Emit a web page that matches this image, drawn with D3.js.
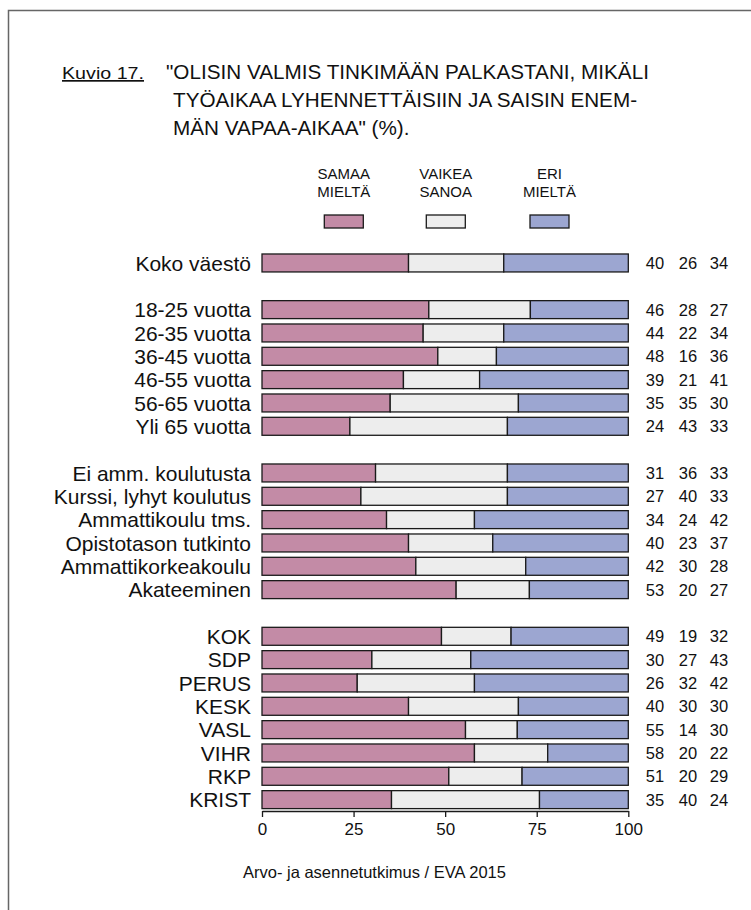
<!DOCTYPE html>
<html><head><meta charset="utf-8">
<script src="https://cdn.jsdelivr.net/npm/d3@7"></script>
<style>
body{margin:0;background:#fff}
text{font-family:"Liberation Sans",Arial,Helvetica,sans-serif;fill:#111}
</style>
</head><body>
<svg id="chart" width="751" height="910"></svg>
<script>
// ---- data ----
const categories = ["Koko väestö",
  "18-25 vuotta","26-35 vuotta","36-45 vuotta","46-55 vuotta","56-65 vuotta","Yli 65 vuotta",
  "Ei amm. koulutusta","Kurssi, lyhyt koulutus","Ammattikoulu tms.","Opistotason tutkinto","Ammattikorkeakoulu","Akateeminen",
  "KOK","SDP","PERUS","KESK","VASL","VIHR","RKP","KRIST"];
const gapBefore = ["18-25 vuotta","Ei amm. koulutusta","KOK"];
const samaa  = [40,46,44,48,39,35,24,31,27,34,40,42,53,49,30,26,40,55,58,51,35];
const vaikea = [26,28,22,16,21,35,43,36,40,24,23,30,20,19,27,32,30,14,20,20,40];
const eri    = [34,27,34,36,41,30,33,33,33,42,37,28,27,32,43,42,30,30,22,29,24];
const seriesKeys = ["samaa","vaikea","eri"];
const legendLabels = [["SAMAA","MIELTÄ"],["VAIKEA","SANOA"],["ERI","MIELTÄ"]];
const xTicks = [0,25,50,75,100];
const titleLines = ['"OLISIN VALMIS TINKIMÄÄN PALKASTANI, MIKÄLI','TYÖAIKAA LYHENNETTÄISIIN JA SAISIN ENEM-','MÄN VAPAA-AIKAA" (%).'];
const figLabel = "Kuvio 17.";
const source = "Arvo- ja asennetutkimus / EVA 2015";

// ---- build ----
const colors = {samaa:"#c38ba6", vaikea:"#ededed", eri:"#9ca6d1"};
const rows = categories.map((c,i)=>({cat:c, samaa:samaa[i], vaikea:vaikea[i], eri:eri[i]}));
const slots = [];
categories.forEach((c,i)=>{ if(gapBefore.includes(c)) slots.push("gap"+i); slots.push(c); });

const svg = d3.select("#chart");

// frame
svg.append("path").attr("d","M8.5,910 L8.5,10.5 L751,10.5").attr("fill","none").attr("stroke","#666").attr("stroke-width",1.5);

const x = d3.scaleLinear().domain([0,1]).range([262,628.3]);
const xPct = d3.scaleLinear().domain([0,100]).range([262,628.3]);
const y = d3.scaleBand().domain(slots).range([251.3,811.3]).paddingInner(0.23).paddingOuter(0.115);

const stack = d3.stack().keys(seriesKeys).offset(d3.stackOffsetExpand);
const stacked = stack(rows);

const g = svg.append("g");
stacked.forEach(layer=>{
  g.selectAll(null).data(layer).enter().append("rect")
    .attr("x", d=>x(d[0]))
    .attr("width", d=>x(d[1])-x(d[0]))
    .attr("y", d=>y(d.data.cat))
    .attr("height", y.bandwidth())
    .attr("fill", colors[layer.key])
    .attr("stroke","#1a1a1a").attr("stroke-width",1.3);
});

// row labels
svg.append("g").selectAll("text").data(rows).enter().append("text")
  .attr("x",251).attr("y",d=>y(d.cat)+y.bandwidth()/2).attr("dy","0.36em")
  .attr("text-anchor","end").style("font-size","21px").text(d=>d.cat);

// value labels
const valCols = [655,688,719];
seriesKeys.forEach((k,j)=>{
  svg.append("g").selectAll("text").data(rows).enter().append("text")
    .attr("x",valCols[j]).attr("y",d=>y(d.cat)+y.bandwidth()/2).attr("dy","0.36em")
    .attr("text-anchor","middle").style("font-size","16.5px").text(d=>d[k]);
});

// axis
const ax = svg.append("g").attr("transform","translate(0,811)")
  .call(d3.axisBottom(xPct).tickValues(xTicks).tickSize(6).tickSizeOuter(0).tickPadding(6));
ax.select(".domain").attr("stroke","#1a1a1a").attr("stroke-width",1.3);
ax.selectAll(".tick line").attr("stroke","#1a1a1a").attr("stroke-width",1.3);
ax.selectAll(".tick text").style("font-size","17px").style("font-family","'Liberation Sans',Arial,sans-serif").attr("fill","#111");

// legend
const legX = [343.8,445.8,549.5];
seriesKeys.forEach((k,j)=>{
  const lg = svg.append("g");
  legendLabels[j].forEach((t,li)=>{
    lg.append("text").attr("text-anchor","middle")
      .attr("x",legX[j]).attr("y",179+li*17.5)
      .style("font-size","15px").text(t);
  });
  lg.append("rect").attr("x",legX[j]-19.5).attr("y",215).attr("width",39).attr("height",13)
    .attr("fill",colors[k]).attr("stroke","#1a1a1a").attr("stroke-width",1.3);
});

// title
svg.append("text").attr("x",62).attr("y",79).style("font-size","17px")
  .attr("textLength",82).attr("lengthAdjust","spacingAndGlyphs")
  .style("text-decoration","underline").text(figLabel);
titleLines.forEach((t,i)=>{
  svg.append("text").attr("x", i===0?166:173).attr("y",79+i*28).style("font-size","20.7px").text(t);
});

// source
svg.append("text").attr("x",243).attr("y",878).style("font-size","16.5px").text(source);
</script>
</body></html>
